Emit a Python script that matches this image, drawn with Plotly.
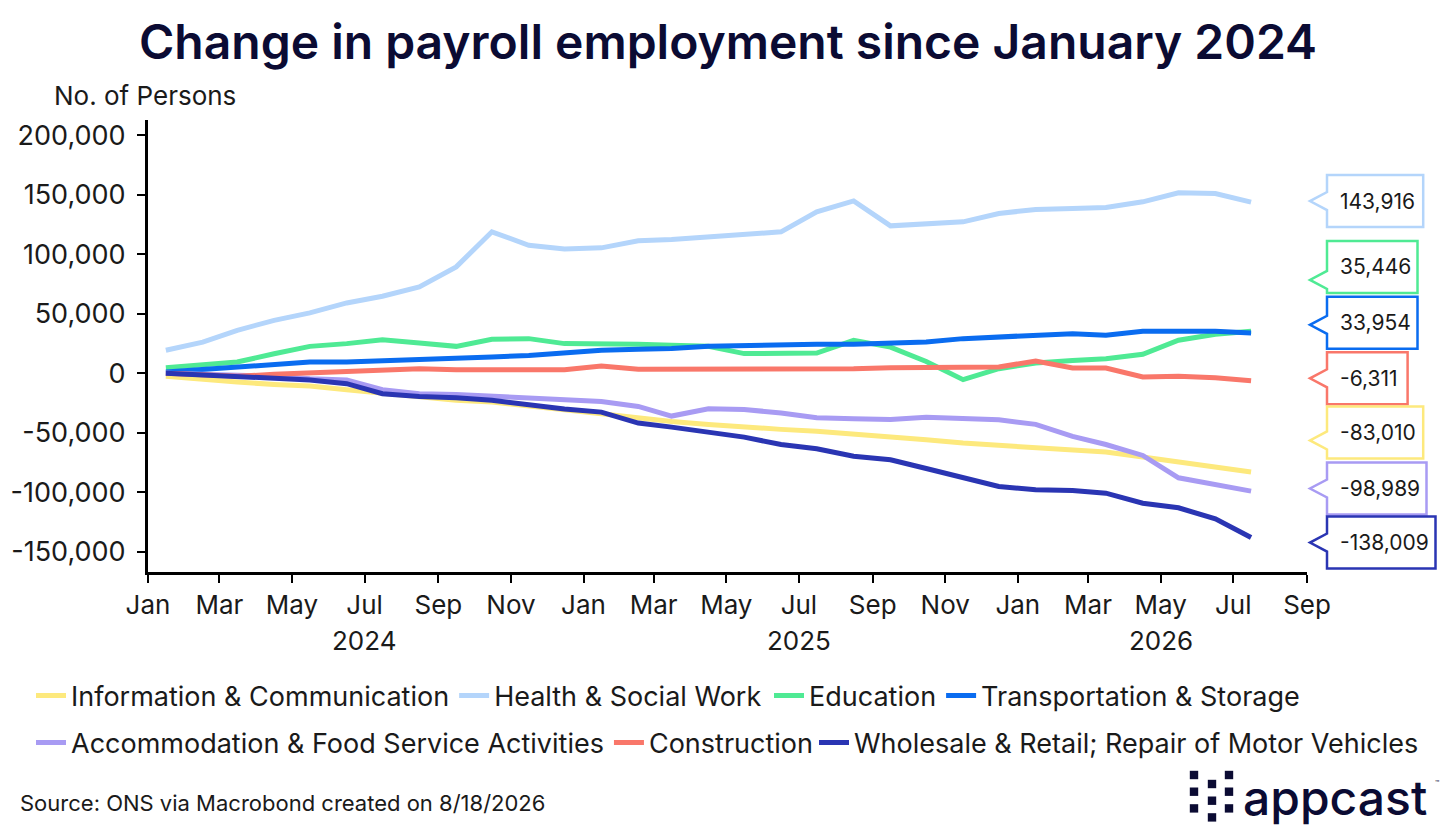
import pandas as pd
import plotly.graph_objects as go

# monthly change since Jan 2024, Jan 2024 .. Jul 2026
months = pd.date_range('2024-01-01', periods=31, freq='MS') + pd.Timedelta(days=15)

info = [-2500, -5300, -7300, -9300, -10700, -13700, -16500, -19900, -22700, -24100, -26900, -30500,
        -33900, -37600, -40400, -42900, -45200, -47100, -48600, -50800, -53600, -55800, -58600, -60600,
        -62500, -64800, -66200, -70400, -74700, -78300, -83010]
health = [19400, 26300, 36200, 44600, 50800, 59200, 64800, 72600, 89500, 119000, 107700, 104500,
          105500, 111400, 112500, 114800, 117000, 119000, 135800, 145000, 124000, 126000, 127400, 134400,
          137800, 138600, 139500, 144200, 151800, 151200, 143916]
education = [4800, 6700, 9500, 16500, 22700, 25000, 28300, 25500, 22700, 28600, 29200, 25000,
             25000, 24400, 23600, 22700, 16600, 17100, 17100, 27800, 22100, 10000, -5300, 3900,
             8700, 10900, 12300, 16000, 27800, 32800, 35446]
transport = [1100, 3100, 5300, 7600, 9500, 9500, 10400, 11800, 11800, 13700, 15100, 17400,
             19400, 20200, 20800, 22700, 23300, 24400, 24400, 24400, 25500, 26400, 29200, 30600,
             31400, 33400, 32000, 35400, 35400, 35400, 33954]
accommodation = [0, -800, -1500, -2500, -4500, -5500, -13700, -17100, -17700, -19400, -20500, -22000,
                 -23600, -27800, -35900, -29700, -30300, -33400, -37300, -38100, -38700, -36800, -37600, -39000,
                 -42900, -53000, -59800, -69000, -87800, -93400, -98989]
construction = [0, -1700, -2500, -800, 600, 1900, 3100, 3900, 3100, 2600, 3100, 3100,
                6100, 3400, 3400, 3400, 3100, 3600, 3900, 3900, 4800, 5300, 5300, 5300,
                10400, 4500, 4500, -3100, -2500, -3700, -6311]
wholesale = [0, -1500, -2500, -3500, -5500, -8700, -17100, -19400, -20500, -22700, -26900, -30000,
             -32600, -41800, -45200, -49400, -53600, -59800, -63400, -69600, -72600, -80000, -87800, -95100,
             -97900, -98500, -100700, -109200, -113000, -122300, -138009]

names = ['Information & Communication', 'Health & Social Work', 'Education',
         'Transportation & Storage', 'Accommodation & Food Service Activities',
         'Construction', 'Wholesale & Retail; Repair of Motor Vehicles']
series = [info, health, education, transport, accommodation, construction, wholesale]
colors = ['#FDE97D', '#B4D5FB', '#4FEA94', '#0A6CF0', '#A89BF3', '#F9776A', '#2A35B3']
y_ticks = [-150000, -100000, -50000, 0, 50000, 100000, 150000, 200000]
# legend rows are split into blocks so plotly does not wrap them
legend_of = ['legend', 'legend', 'legend4', 'legend4', 'legend2', 'legend2', 'legend3']

W, H = 1456, 840
OFF = 8  # page body margin
L, T = 148 - OFF, 120 - OFF
R, B = W - (1307 - OFF), H - (572 - OFF)
FONT = 'Inter'
INK = '#0b0b33'
TXT = '#1a1a1a'


def px_x(px):
    return (px - OFF - L) / (W - L - R)


def px_y(py):
    return (H - B - (py - OFF)) / (H - T - B)


def cx(px):
    return (px - OFF) / W


def cy(py):
    return 1 - (py - OFF) / H


fig = go.Figure()
for name, ys, col, lg in zip(names, series, colors, legend_of):
    fig.add_trace(go.Scatter(
        x=months, y=ys, name=name, mode='lines',
        line=dict(color=col, width=5), legend=lg,
    ))

# end-of-line callouts, spread so they do not overlap
label_order = [1, 2, 3, 5, 0, 4, 6]
label_y = [144800, 89500, 42500, -4200, -49700, -96800, -142300]
tip_shift = [0, -13, -2, 0, -8, 0, 0]


def text_w(s):
    w = 0
    for ch in s:
        if ch == '1':
            w += 9
        elif ch in ',':
            w += 5
        elif ch == '-':
            w += 9
        else:
            w += 12.3
    return w


shapes = []
annotations = []
for k, idx in enumerate(label_order):
    val = series[idx][-1]
    txt = f'{val:,}'
    bw = text_w(txt) + 24
    x0, x1, tip = 20, 20 + bw, 3
    off = tip_shift[k]
    path = (f'M{x0},26 L{x1},26 L{x1},-26 L{x0},-26 L{x0},{off - 9} '
            f'L{tip},{off} L{x0},{off + 9} Z')
    shapes.append(dict(
        type='path', path=path, xref='paper', yref='y',
        xsizemode='pixel', ysizemode='pixel', xanchor=1, yanchor=label_y[k],
        line=dict(color=colors[idx], width=2.5), fillcolor='white', layer='above',
    ))
    annotations.append(dict(
        text=txt, xref='paper', yref='y', x=1, y=label_y[k], xanchor='left',
        yanchor='middle', xshift=31, showarrow=False,
        font=dict(family=FONT, size=21, color=TXT),
    ))

# year labels under the month ticks
for yr, pos in [('2024', '2024-07-01'), ('2025', '2025-07-01'), ('2026', '2026-05-01')]:
    annotations.append(dict(
        text=yr, xref='x', yref='paper', x=pos, y=px_y(640), yanchor='middle',
        showarrow=False, font=dict(family=FONT, size=26, color=TXT),
    ))

annotations.append(dict(
    text='No. of Persons', xref='paper', yref='paper', x=px_x(52), y=px_y(95),
    xanchor='left', yanchor='middle', showarrow=False,
    font=dict(family=FONT, size=26, color=TXT),
))
annotations.append(dict(
    text='Source: ONS via Macrobond created on 8/18/2026', xref='paper', yref='paper',
    x=px_x(18), y=px_y(803), xanchor='left', yanchor='middle', showarrow=False,
    font=dict(family=FONT, size=22, color=TXT),
))
annotations.append(dict(
    text='appcast', xref='paper', yref='paper', x=px_x(1241), y=px_y(797),
    xanchor='left', yanchor='middle', showarrow=False,
    font=dict(family=FONT, size=48, color=INK, weight=500),
))
annotations.append(dict(
    text='™', xref='paper', yref='paper', x=px_x(1433), y=px_y(783),
    xanchor='left', yanchor='middle', showarrow=False,
    font=dict(family=FONT, size=7, color=INK),
))

# logo dot grid
for gx, gy0 in [(1194, 775), (1212, 784), (1229, 775)]:
    for r in range(3):
        gy = gy0 + r * 16.7
        shapes.append(dict(
            type='rect', xref='paper', yref='paper',
            x0=px_x(gx - 4.2), x1=px_x(gx + 4.2), y0=px_y(gy - 4.2), y1=px_y(gy + 4.2),
            fillcolor=INK, line=dict(width=0),
        ))

axis_common = dict(
    showgrid=False, zeroline=False, automargin=False,
    showline=True, linecolor='black', linewidth=3,
    ticks='outside', ticklen=8, tickwidth=2, tickcolor='black',
)
legend_common = dict(
    orientation='h', xref='container', yref='container',
    xanchor='left', yanchor='middle', itemwidth=30, bgcolor='rgba(0,0,0,0)',
    font=dict(family=FONT, size=27, color=TXT),
)

fig.update_layout(
    width=W, height=H,
    margin=dict(l=L, r=R, t=T, b=B),
    paper_bgcolor='white', plot_bgcolor='white',
    font=dict(family=FONT, color=TXT),
    title=dict(
        text='Change in payroll employment since January 2024',
        x=cx(728), xref='container', y=cy(42), yref='container',
        xanchor='center', yanchor='middle',
        font=dict(family=FONT, size=48, color=INK, weight=600),
    ),
    xaxis=dict(
        type='date', range=['2024-01-01', '2026-09-01'],
        tick0='2024-01-01', dtick='M2', tickformat='%b',
        tickfont=dict(family=FONT, size=26, color=TXT),
        **axis_common,
    ),
    yaxis=dict(
        range=[-167000, 213000],
        tickvals=y_ticks, ticktext=[f'{v:,}' for v in y_ticks],
        ticklabelstandoff=6,
        tickfont=dict(family=FONT, size=27, color=TXT),
        **axis_common,
    ),
    legend=dict(x=cx(31), y=cy(696), **legend_common),
    legend4=dict(x=cx(769), y=cy(696), **legend_common),
    legend2=dict(x=cx(31), y=cy(743), **legend_common),
    legend3=dict(x=cx(814), y=cy(743), **legend_common),
    shapes=shapes,
    annotations=annotations,
)

fig.write_html('out.html')
